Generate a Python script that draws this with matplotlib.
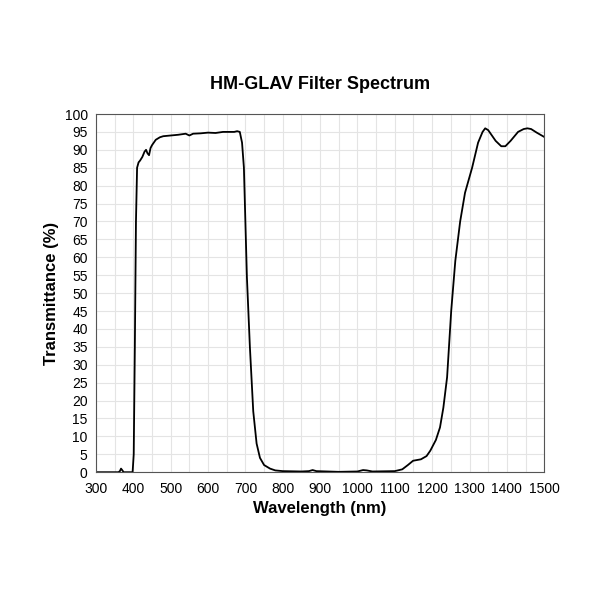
import matplotlib
matplotlib.use("Agg")
import matplotlib.pyplot as plt
from matplotlib.ticker import MultipleLocator

plt.rcParams['font.family'] = ['Liberation Sans', 'DejaVu Sans']

# wavelength (nm) and transmittance (%)
wavelength = [300, 360, 364, 367, 370, 374, 398, 401, 404, 407, 410, 414, 418, 424, 430, 434,
              438, 442, 446, 450, 460, 471, 480, 500, 520, 540, 550, 560, 580, 600, 620, 640,
              660, 670, 678, 685, 691, 696, 704, 712, 721, 730, 739, 750, 766, 780, 800, 850,
              870, 880, 890, 950, 1000, 1015, 1025, 1040, 1100, 1120, 1135, 1149, 1170, 1185,
              1195, 1210, 1221, 1230, 1240, 1251, 1262, 1275, 1288, 1307, 1323, 1335, 1342,
              1350, 1370, 1385, 1396, 1410, 1430, 1445, 1455, 1465, 1480, 1500]
transmittance = [0, 0, 0.3, 1, 0.6, 0, 0, 5, 35, 70, 85, 86.5, 87, 88, 89.5, 90,
                 89, 88.5, 90.5, 91.3, 92.8, 93.5, 93.8, 94, 94.2, 94.5, 94, 94.5, 94.6, 94.8, 94.7, 95,
                 95, 95, 95.2, 95, 92, 85, 54.5, 35, 17, 8, 4, 2, 1, 0.5, 0.3, 0.2,
                 0.3, 0.6, 0.3, 0.1, 0.2, 0.6, 0.5, 0.2, 0.3, 0.8, 2, 3.2, 3.6, 4.5,
                 6, 9, 12.5, 18, 26.5, 45, 59, 70, 78, 85, 92, 95, 96,
                 95.5, 92.5, 91, 91, 92.5, 95, 95.8, 96, 95.8, 94.8, 93.6]

fig = plt.figure(figsize=(6, 6), dpi=100)
ax = fig.add_axes([0.16, 0.213, 0.747, 0.597])
ax.plot(wavelength, transmittance, color='black', lw=1.3)

ax.set_xlim(300, 1500)
ax.set_ylim(0, 100)
ax.xaxis.set_major_locator(MultipleLocator(100))
ax.xaxis.set_minor_locator(MultipleLocator(50))
ax.yaxis.set_major_locator(MultipleLocator(5))
ax.grid(which='both', color='#e4e4e4', lw=0.8)
ax.set_axisbelow(True)
ax.tick_params(which='both', length=0, labelsize=10)
ax.tick_params(axis='x', pad=7)
ax.tick_params(axis='y', pad=6)
for s in ax.spines.values():
    s.set_color('#555555')

ax.set_xlabel('Wavelength (nm)', fontsize=12, fontweight='bold', labelpad=4)
ax.set_ylabel('Transmittance (%)', fontsize=12, fontweight='bold')
ax.set_title('HM-GLAV Filter Spectrum', fontsize=13, fontweight='bold', pad=18)

fig.savefig('out.png', dpi=100)
